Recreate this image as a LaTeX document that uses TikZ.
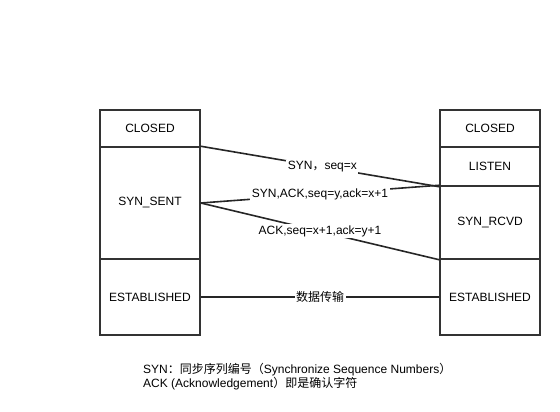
\documentclass[tikz,border=0pt]{standalone}
\usepackage{fontspec}
\setmainfont{Liberation Sans}
\newfontfamily\cjk{Noto Sans CJK SC}
\begin{document}
\begin{tikzpicture}[x=1pt,y=-1pt,
    state/.style={draw=black!80, line width=1.5pt, minimum width=100pt, inner sep=0pt, font=\fontsize{12}{14}\selectfont},
    msg/.style={fill=white, inner sep=1.5pt, font=\fontsize{12}{14}\selectfont},
    link/.style={draw=black!85, line width=1.6pt},
    note/.style={anchor=west, inner sep=0pt, font=\fontsize{12}{14}\selectfont}]
    \useasboundingbox (0,0) rectangle (560,412);

    % client side
    \node[state, minimum height=37pt]  (lclosed) at (150,128.5) {CLOSED};
    \node[state, minimum height=112pt] (lsent)   at (150,203)   {SYN\_SENT};
    \node[state, minimum height=76pt]  (lest)    at (150,297)   {ESTABLISHED};

    % server side
    \node[state, minimum height=37pt]  (rclosed) at (490,128.5) {CLOSED};
    \node[state, minimum height=39pt]  (rlisten) at (490,166.5) {LISTEN};
    \node[state, minimum height=73pt]  (rrcvd)   at (490,222.5) {SYN\_RCVD};
    \node[state, minimum height=76pt]  (rest)    at (490,297)   {ESTABLISHED};

    % draw handshake
    \draw[link] (lsent.north east) -- node[msg, pos=0.51] {SYN{\cjk ，}seq=x} (rlisten.south west);
    \draw[link] (rrcvd.north west) -- node[msg, pos=0.5] {SYN,ACK,seq=y,ack=x+1} (lsent.east);
    \draw[link] (lsent.east) -- node[msg, pos=0.5] {ACK,seq=x+1,ack=y+1} (rrcvd.south west);
    \draw[link] (lest.east) -- node[msg, pos=0.5] {\cjk 数据传输} (rest.west);

    % legend
    \node[note] (syn) at (143,370) {SYN{\cjk ：同步序列编号（}Synchronize Sequence Numbers{\cjk ）}};
    \node[note] (ack) at (143,384) {ACK (Acknowledgement{\cjk ）即是确认字符}};
\end{tikzpicture}
\end{document}
